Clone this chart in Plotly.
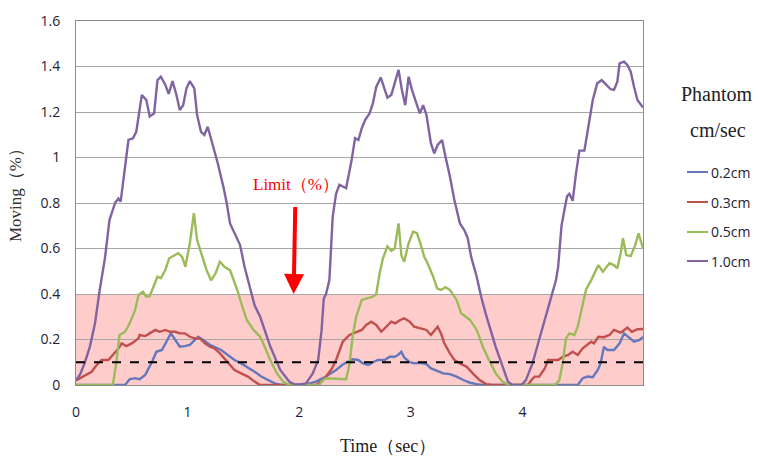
import plotly.graph_objects as go

# ---- data (time in sec, moving in %) ----
t_02 = [0, 0.44, 0.48, 0.53, 0.57, 0.62, 0.65, 0.68, 0.72, 0.77, 0.81, 0.85, 0.89, 0.93, 0.975, 1.02, 1.065, 1.095, 1.14, 1.20, 1.24, 1.30, 1.36, 1.42, 1.48, 1.54, 1.60, 1.66, 1.72, 1.78, 1.84, 2.0, 2.06, 2.15, 2.24, 2.33, 2.39, 2.48, 2.53, 2.57, 2.62, 2.66, 2.705, 2.765, 2.81, 2.855, 2.885, 2.915, 2.94, 2.99, 3.03, 3.08, 3.14, 3.18, 3.23, 3.29, 3.35, 3.41, 3.47, 3.53, 3.59, 3.645, 4.495, 4.54, 4.585, 4.63, 4.675, 4.70, 4.73, 4.76, 4.82, 4.87, 4.91, 4.96, 5.00, 5.05, 5.08]
v_02 = [0, 0, 0.025, 0.03, 0.025, 0.044, 0.073, 0.10, 0.146, 0.154, 0.19, 0.227, 0.198, 0.168, 0.171, 0.176, 0.198, 0.212, 0.198, 0.176, 0.168, 0.154, 0.132, 0.11, 0.095, 0.078, 0.058, 0.037, 0.022, 0.007, 0, 0, 0.003, 0.015, 0.037, 0.066, 0.09, 0.113, 0.11, 0.095, 0.088, 0.10, 0.11, 0.11, 0.124, 0.124, 0.132, 0.146, 0.121, 0.10, 0.095, 0.098, 0.092, 0.073, 0.063, 0.051, 0.048, 0.037, 0.022, 0.01, 0.004, 0, 0, 0.03, 0.037, 0.034, 0.066, 0.095, 0.168, 0.154, 0.154, 0.183, 0.227, 0.205, 0.19, 0.198, 0.212]

t_03 = [0, 0.036, 0.08, 0.14, 0.185, 0.23, 0.29, 0.33, 0.38, 0.41, 0.45, 0.50, 0.56, 0.57, 0.62, 0.66, 0.71, 0.75, 0.80, 0.84, 0.89, 0.93, 0.975, 1.02, 1.065, 1.11, 1.155, 1.20, 1.24, 1.29, 1.33, 1.38, 1.42, 1.48, 1.54, 1.60, 1.65, 2.15, 2.21, 2.24, 2.29, 2.33, 2.39, 2.45, 2.51, 2.56, 2.60, 2.645, 2.69, 2.735, 2.78, 2.825, 2.86, 2.905, 2.94, 2.99, 3.03, 3.08, 3.14, 3.18, 3.22, 3.24, 3.27, 3.30, 3.35, 3.39, 3.44, 3.50, 3.555, 3.615, 3.675, 3.73, 4.05, 4.08, 4.11, 4.15, 4.20, 4.23, 4.27, 4.32, 4.36, 4.41, 4.45, 4.495, 4.54, 4.58, 4.615, 4.64, 4.68, 4.73, 4.78, 4.82, 4.88, 4.94, 4.98, 5.03, 5.08]
v_03 = [0.02, 0.03, 0.044, 0.058, 0.088, 0.11, 0.11, 0.132, 0.16, 0.183, 0.171, 0.183, 0.205, 0.22, 0.215, 0.227, 0.242, 0.234, 0.242, 0.234, 0.234, 0.227, 0.227, 0.212, 0.205, 0.205, 0.183, 0.168, 0.161, 0.139, 0.117, 0.088, 0.066, 0.051, 0.037, 0.015, 0, 0, 0.02, 0.037, 0.07, 0.11, 0.19, 0.22, 0.234, 0.242, 0.264, 0.278, 0.264, 0.234, 0.256, 0.278, 0.271, 0.286, 0.293, 0.278, 0.256, 0.249, 0.242, 0.22, 0.242, 0.256, 0.227, 0.183, 0.139, 0.11, 0.095, 0.08, 0.051, 0.022, 0.004, 0, 0, 0.022, 0.037, 0.037, 0.073, 0.11, 0.11, 0.11, 0.124, 0.132, 0.146, 0.132, 0.161, 0.176, 0.19, 0.183, 0.212, 0.21, 0.22, 0.242, 0.23, 0.252, 0.234, 0.245, 0.246]

t_05 = [0, 0.33, 0.36, 0.39, 0.44, 0.48, 0.53, 0.56, 0.60, 0.63, 0.66, 0.69, 0.73, 0.76, 0.80, 0.835, 0.88, 0.915, 0.95, 0.98, 1.02, 1.056, 1.085, 1.125, 1.17, 1.21, 1.25, 1.29, 1.33, 1.38, 1.42, 1.45, 1.49, 1.53, 1.59, 1.65, 1.69, 1.74, 1.80, 1.855, 1.91, 2.18, 2.21, 2.24, 2.42, 2.45, 2.48, 2.51, 2.56, 2.60, 2.66, 2.69, 2.72, 2.75, 2.79, 2.825, 2.855, 2.89, 2.915, 2.94, 2.98, 3.02, 3.055, 3.085, 3.12, 3.15, 3.20, 3.235, 3.27, 3.31, 3.35, 3.38, 3.41, 3.45, 3.53, 3.59, 3.645, 3.70, 3.76, 3.82, 3.88, 4.29, 4.33, 4.36, 4.39, 4.42, 4.465, 4.495, 4.54, 4.57, 4.615, 4.65, 4.68, 4.72, 4.78, 4.82, 4.85, 4.88, 4.90, 4.93, 4.97, 5.01, 5.04, 5.08]
v_05 = [0, 0, 0.095, 0.22, 0.234, 0.27, 0.33, 0.396, 0.41, 0.388, 0.39, 0.43, 0.476, 0.469, 0.505, 0.557, 0.571, 0.579, 0.564, 0.52, 0.623, 0.755, 0.637, 0.571, 0.505, 0.46, 0.49, 0.542, 0.52, 0.505, 0.454, 0.41, 0.344, 0.286, 0.242, 0.212, 0.168, 0.11, 0.051, 0.015, 0, 0, 0.02, 0.03, 0.025, 0.09, 0.22, 0.30, 0.374, 0.38, 0.388, 0.40, 0.49, 0.557, 0.61, 0.59, 0.60, 0.71, 0.571, 0.542, 0.623, 0.674, 0.667, 0.623, 0.564, 0.535, 0.476, 0.425, 0.418, 0.43, 0.418, 0.396, 0.374, 0.315, 0.286, 0.242, 0.168, 0.11, 0.051, 0.015, 0, 0, 0.02, 0.095, 0.205, 0.227, 0.22, 0.256, 0.36, 0.42, 0.46, 0.498, 0.527, 0.498, 0.535, 0.527, 0.513, 0.579, 0.645, 0.571, 0.567, 0.615, 0.667, 0.60]

t_10 = [0, 0.04, 0.08, 0.125, 0.17, 0.21, 0.26, 0.30, 0.35, 0.38, 0.40, 0.44, 0.47, 0.51, 0.54, 0.59, 0.63, 0.66, 0.70, 0.73, 0.76, 0.80, 0.83, 0.865, 0.90, 0.93, 0.96, 0.99, 1.02, 1.06, 1.085, 1.12, 1.15, 1.18, 1.23, 1.27, 1.32, 1.35, 1.38, 1.42, 1.47, 1.51, 1.56, 1.60, 1.65, 1.74, 1.83, 1.91, 1.97, 2.06, 2.12, 2.17, 2.20, 2.22, 2.24, 2.27, 2.30, 2.33, 2.36, 2.42, 2.47, 2.50, 2.53, 2.56, 2.59, 2.63, 2.66, 2.69, 2.73, 2.76, 2.79, 2.825, 2.86, 2.89, 2.92, 2.95, 2.98, 3.01, 3.05, 3.08, 3.11, 3.14, 3.18, 3.21, 3.24, 3.28, 3.31, 3.35, 3.39, 3.44, 3.48, 3.51, 3.54, 3.59, 3.63, 3.67, 3.76, 3.82, 3.87, 3.91, 3.99, 4.03, 4.09, 4.15, 4.20, 4.24, 4.28, 4.30, 4.32, 4.35, 4.38, 4.40, 4.42, 4.45, 4.48, 4.51, 4.555, 4.58, 4.63, 4.67, 4.71, 4.75, 4.79, 4.82, 4.85, 4.87, 4.91, 4.94, 4.97, 5.00, 5.03, 5.08]
v_10 = [0.02, 0.05, 0.10, 0.17, 0.27, 0.41, 0.56, 0.725, 0.80, 0.82, 0.806, 0.97, 1.077, 1.084, 1.113, 1.275, 1.253, 1.18, 1.194, 1.34, 1.355, 1.32, 1.28, 1.336, 1.275, 1.209, 1.23, 1.304, 1.336, 1.304, 1.187, 1.113, 1.099, 1.135, 1.048, 0.975, 0.872, 0.80, 0.71, 0.667, 0.615, 0.52, 0.43, 0.35, 0.30, 0.17, 0.066, 0.015, 0, 0.007, 0.05, 0.11, 0.24, 0.38, 0.40, 0.46, 0.74, 0.84, 0.88, 0.865, 0.99, 1.085, 1.077, 1.128, 1.165, 1.194, 1.238, 1.31, 1.352, 1.304, 1.263, 1.275, 1.34, 1.385, 1.297, 1.23, 1.355, 1.297, 1.238, 1.194, 1.23, 1.187, 1.062, 1.018, 1.055, 1.077, 1.004, 0.916, 0.813, 0.71, 0.68, 0.645, 0.564, 0.476, 0.388, 0.315, 0.168, 0.08, 0.015, 0, 0, 0.02, 0.095, 0.2, 0.286, 0.36, 0.42, 0.46, 0.52, 0.70, 0.78, 0.83, 0.84, 0.81, 0.93, 1.03, 1.03, 1.106, 1.253, 1.326, 1.34, 1.32, 1.30, 1.297, 1.333, 1.414, 1.421, 1.407, 1.377, 1.31, 1.253, 1.22]

series_names = ["0.2cm", "0.3cm", "0.5cm", "1.0cm"]
series_colors = ["#6577BC", "#C0504D", "#9BBB59", "#8064A2"]
x_ticks = [0, 1, 2, 3, 4]
y_ticks = [0, 0.2, 0.4, 0.6, 0.8, 1, 1.2, 1.4, 1.6]
y_tick_text = ["0", "0.2", "0.4", "0.6", "0.8", "1", "1.2", "1.4", "1.6"]
limit_value = 0.4
dashed_value = 0.1
x_max = 5.08

series_t = [t_02, t_03, t_05, t_10]
series_v = [v_02, v_03, v_05, v_10]

SERIF = "Liberation Serif"
SANS = "Open Sans"
TICK_COLOR = "#1E2235"

W, H = 760, 456
ML, MR, MT, MB = 76, 117, 21, 71
PW, PH = W - ML - MR, H - MT - MB


def px_to_paper(px, py):
    return (px - ML) / PW, (H - MB - py) / PH


fig = go.Figure()
for name, color, tt, vv in zip(series_names, series_colors, series_t, series_v):
    fig.add_trace(go.Scatter(x=tt, y=vv, mode="lines", name=name,
                             line=dict(color=color, width=2.4), showlegend=False))

# limit band and dashed line
fig.add_shape(type="rect", xref="x", yref="y", x0=0, x1=x_max, y0=0, y1=limit_value,
              fillcolor="#FFCCCC", line=dict(width=0), layer="below")
fig.add_shape(type="line", xref="x", yref="y", x0=0, x1=x_max, y0=dashed_value, y1=dashed_value,
              line=dict(color="black", width=2, dash="dash"), layer="above")

# Limit annotation with arrow
fig.add_annotation(x=1.95, y=limit_value, xref="x", yref="y", text="Limit（%）",
                   showarrow=True, arrowhead=2, arrowsize=1, arrowwidth=4, arrowcolor="red",
                   ax=2, ay=-110, startstandoff=12, font=dict(family=SERIF, size=17, color="red"))

# axis titles
xp, yp = px_to_paper(388, 446)
fig.add_annotation(x=xp, y=yp, xref="paper", yref="paper", text="Time（sec）",
                   showarrow=False, xanchor="center", yanchor="middle",
                   font=dict(family=SERIF, size=18, color="#222"))
xp, yp = px_to_paper(15, 191)
fig.add_annotation(x=xp, y=yp, xref="paper", yref="paper", text="Moving（%）",
                   showarrow=False, textangle=-90, xanchor="center", yanchor="middle",
                   font=dict(family=SERIF, size=17, color="#333"))

# legend (drawn manually)
for txt, (cx, cy) in [("Phantom", (717, 94)), ("cm/sec", (718, 130))]:
    xp, yp = px_to_paper(cx, cy)
    fig.add_annotation(x=xp, y=yp, xref="paper", yref="paper", text=txt, showarrow=False,
                       xanchor="center", yanchor="middle",
                       font=dict(family=SERIF, size=20, color="#222"))

leg_y = [172, 202, 232, 261]
for name, color, ly in zip(series_names, series_colors, leg_y):
    x0, y0 = px_to_paper(687, ly)
    x1, _ = px_to_paper(708, ly)
    fig.add_shape(type="line", xref="paper", yref="paper", x0=x0, x1=x1, y0=y0, y1=y0,
                  line=dict(color=color, width=2))
    xt, _ = px_to_paper(709, ly)
    fig.add_annotation(x=xt, y=y0, xref="paper", yref="paper", text=name, showarrow=False,
                       xanchor="left", yanchor="middle",
                       font=dict(family=SANS, size=14, color=TICK_COLOR))

fig.update_layout(
    width=W, height=H,
    margin=dict(l=ML, r=MR, t=MT, b=MB),
    paper_bgcolor="white", plot_bgcolor="white",
    showlegend=False,
    xaxis=dict(range=[0, x_max], tickvals=x_ticks, ticktext=[str(v) for v in x_ticks],
               showgrid=False, zeroline=False, showline=True, linecolor="#8C8C8C", linewidth=1,
               mirror=True, ticks="", ticklabelstandoff=14,
               tickfont=dict(family=SANS, size=14, color=TICK_COLOR)),
    yaxis=dict(range=[0, 1.6], tickvals=y_ticks, ticktext=y_tick_text,
               showgrid=True, gridcolor="#A6A6A6", gridwidth=1, zeroline=False,
               showline=True, linecolor="#8C8C8C", linewidth=1, mirror=True, ticks="",
               ticklabelstandoff=12,
               tickfont=dict(family=SANS, size=14, color=TICK_COLOR)),
)

fig.write_html("out.html", config={"displayModeBar": False},
               post_script="document.body.style.margin='0';document.body.style.overflow='hidden';")
